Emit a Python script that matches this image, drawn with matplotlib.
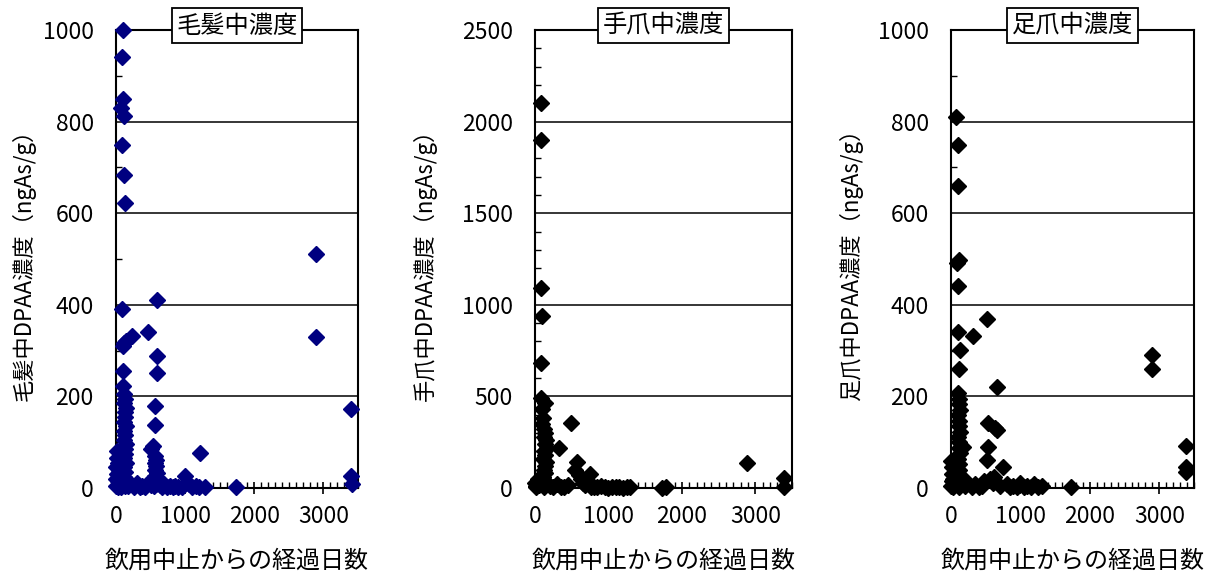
import matplotlib
matplotlib.use("Agg")
import matplotlib.pyplot as plt
from matplotlib.ticker import MultipleLocator

plt.rcParams['font.family'] = ['Noto Sans CJK JP', 'DejaVu Sans']

# ---------------- data ----------------
titles = ["毛髪中濃度", "手爪中濃度", "足爪中濃度"]
ylabels = ["毛髪中DPAA濃度（ngAs/g）", "手爪中DPAA濃度（ngAs/g）", "足爪中DPAA濃度（ngAs/g）"]
xlabel = "飲用中止からの経過日数"
x_ticks = [0, 1000, 2000, 3000]
y_ticks_hair = [0, 200, 400, 600, 800, 1000]
y_ticks_hand = [0, 500, 1000, 1500, 2000, 2500]
y_ticks_foot = [0, 200, 400, 600, 800, 1000]

hair_days = [100, 85, 95, 75, 110, 85, 120, 125, 85, 230, 150, 115, 105, 100, 95,
             120, 130, 110, 140, 125, 135, 115, 145, 120, 130, 110, 140, 125, 135, 115, 150, 120, 130, 110, 140, 125,
             20, 10, 30, 0, 40, 15, 50, 5, 25, 60, 0, 35, 70, 80, 60,
             180, 220, 260, 300, 340, 380, 420, 460, 700, 740, 780, 820, 860, 900, 950, 993, 1050, 1100, 1150,
             1200, 1210, 1280, 1730,
             600, 470, 600, 600, 560, 560, 540, 505, 570, 575, 560, 580, 570, 590, 560, 600, 620, 580, 550, 640,
             520, 500, 660,
             2890, 2890, 3400, 3400, 3420]
hair_conc = [1000, 942, 850, 830, 812, 748, 683, 622, 390, 332, 322, 316, 310, 255, 222,
             205, 195, 185, 175, 165, 155, 145, 135, 125, 115, 105, 95, 85, 75, 65, 55, 45, 35, 25, 15, 5,
             80, 65, 55, 45, 40, 30, 25, 20, 15, 10, 5, 3, 2, 35, 50,
             5, 8, 3, 10, 2, 5, 3, 12, 8, 3, 5, 2, 4, 3, 2, 26, 8, 3, 5,
             2, 76, 3, 2,
             410, 340, 288, 252, 180, 138, 92, 85, 70, 62, 55, 48, 40, 33, 27, 20, 14, 8, 4, 6,
             15, 6, 3,
             511, 330, 172, 26, 9]

hand_days = [80, 80, 80, 100, 80, 80, 130, 90, 110, 490, 100, 120, 330, 570, 750, 2890, 3390, 3390,
             140, 120, 150, 130, 160, 120, 140, 110, 150, 130, 120, 140, 110, 130, 150, 120,
             0, 20, 40, 10, 30, 60,
             200, 250, 300, 350, 400, 450, 550, 600, 620, 650, 680, 700, 760, 800, 850, 900, 950, 1000,
             1050, 1100, 1150, 1200, 1250, 1300, 1730, 1780]
hand_conc = [2100, 1900, 1092, 940, 683, 491, 464, 430, 380, 355, 350, 320, 218, 142, 76, 136, 55, 5,
             300, 280, 260, 240, 220, 200, 180, 160, 140, 120, 100, 80, 60, 40, 20, 5,
             30, 10, 50, 5, 20, 15,
             10, 5, 20, 3, 8, 15, 100, 70, 50, 30, 15, 40, 8, 5, 3, 10, 4, 2,
             5, 3, 8, 2, 4, 3, 2, 5]

foot_days = [72, 100, 100, 90, 120, 100, 520, 100, 320, 125, 110, 660, 2900, 2900,
             530, 660, 640, 530, 520, 750, 3385, 3390, 3380,
             100, 120, 110, 130, 100, 120, 110, 130, 100, 120, 110, 130, 100, 120, 110, 130, 170, 100, 120, 110,
             0, 20, 10, 30, 40, 5, 25, 15,
             200, 250, 300, 350, 400, 450, 480, 560, 600, 620, 700, 800, 850, 900, 950, 1000, 1050, 1100,
             1150, 1200, 1250, 1310, 1730]
foot_conc = [810, 749, 660, 491, 498, 440, 369, 340, 332, 302, 260, 221, 290, 260,
             141, 127, 130, 90, 61, 46, 92, 46, 35,
             207, 195, 183, 171, 159, 147, 135, 123, 111, 100, 88, 76, 64, 52, 40, 28, 90, 17, 8, 3,
             60, 45, 30, 20, 10, 5, 3, 15,
             5, 10, 3, 8, 2, 5, 15, 20, 10, 25, 5, 8, 3, 5, 2, 10, 3, 5,
             2, 8, 3, 5, 2]

panels = [
    dict(days=hair_days, conc=hair_conc, yt=y_ticks_hair, color="#000080",
         rect=[116/1217, 87/575, 242/1217, 458/575], ylx=-0.38),
    dict(days=hand_days, conc=hand_conc, yt=y_ticks_hand, color="#000000",
         rect=[535/1217, 87/575, 257/1217, 458/575], ylx=-0.43),
    dict(days=foot_days, conc=foot_conc, yt=y_ticks_foot, color="#000000",
         rect=[951/1217, 87/575, 243/1217, 458/575], ylx=-0.41),
]

fig = plt.figure(figsize=(12.17, 5.75), dpi=100)

for i, p in enumerate(panels):
    ax = fig.add_axes(p["rect"])
    ax.set_xlim(0, 3500)
    ax.set_ylim(p["yt"][0], p["yt"][-1])
    ax.set_xticks(x_ticks)
    ax.set_yticks(p["yt"])
    ax.xaxis.set_minor_locator(MultipleLocator(100))
    ax.yaxis.set_minor_locator(MultipleLocator(100))
    ax.tick_params(axis='x', which='major', direction='inout', length=8, width=1.2,
                   labelsize=16.5, pad=8)
    ax.tick_params(axis='x', which='minor', direction='in', length=4, width=1.0)
    ax.tick_params(axis='y', which='major', direction='in', length=0, labelsize=16.5, pad=16)
    ax.tick_params(axis='y', which='minor', direction='in', length=4, width=1.0)
    for s in ax.spines.values():
        s.set_linewidth(1.5)
        s.set_color('black')
    for yv in p["yt"][1:-1]:
        ax.axhline(yv, color='black', lw=1.1, zorder=1)
    ax.plot(p["days"], p["conc"], linestyle='none', marker='D', markersize=8.3,
            color=p["color"], markeredgecolor=p["color"], clip_on=False, zorder=3)
    ax.set_xlabel(xlabel, fontsize=17.3)
    ax.xaxis.set_label_coords(0.5, -0.159)
    ax.xaxis.label.set_va('center')
    ax.set_ylabel(ylabels[i], fontsize=16)
    ax.yaxis.set_label_coords(p["ylx"], 0.5)
    ax.yaxis.label.set_va('center')
    ax.text(0.5, 1.0 + 4.5/458, titles[i], transform=ax.transAxes, ha='center', va='center',
            fontsize=17.5, zorder=5,
            bbox=dict(boxstyle='square,pad=0.2', facecolor='white', edgecolor='black', linewidth=1.3))

fig.savefig("out.png", dpi=100)
